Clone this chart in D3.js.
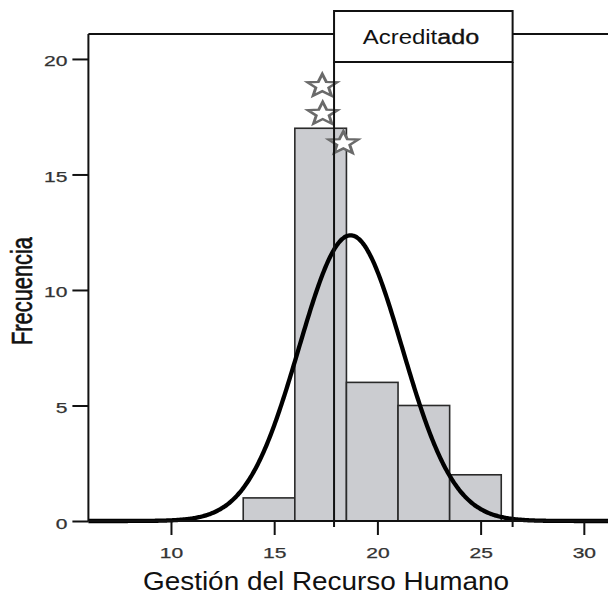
<!DOCTYPE html>
<html>
<head>
<meta charset="utf-8">
<script src="https://cdn.jsdelivr.net/npm/d3@7"></script>
<style>
  html, body { margin: 0; padding: 0; background: #fff; }
  svg { display: block; }
  text { font-family: "Liberation Sans", Arial, Helvetica, sans-serif; }
</style>
</head>
<body>
<script>
// ---- Data ----
const binEdges = [13.5, 16, 18.5, 21, 23.5, 26];
const counts = [1, 17, 6, 5, 2];
const xTicks = [10, 15, 20, 25, 30];
const yTicks = [0, 5, 10, 15, 20];
const curveMean = 18.7;
const curveSd = 2.5;
const nTotal = 31;
const binWidth = 2.5;
const acreditadoRange = [17.9, 26.55];
const acreditadoLabel = ["Acredit", "ado"];
const outlierX = [17.33, 17.35, 18.35];
const outlierY = [18.83, 17.62, 16.35];
const xTitle = "Gestión del Recurso Humano";
const yTitle = "Frecuencia";

// ---- Layout ----
const W = 608, H = 598;
const svg = d3.select("body").append("svg").attr("width", W).attr("height", H);

const x = d3.scaleLinear().domain([6, 31.2]).range([88.4, 608.6]);
const y = d3.scaleLinear().domain([0, 21.08]).range([521, 34]);

// Frame: top line
svg.append("line").attr("x1", x(6)).attr("x2", W + 5).attr("y1", y(21.08)).attr("y2", y(21.08))
  .attr("stroke", "#111").attr("stroke-width", 2);

// Bars
const bars = counts.map((c, i) => ({ x0: binEdges[i], x1: binEdges[i + 1], c }));
svg.append("g").selectAll("rect").data(bars).join("rect")
  .attr("x", d => x(d.x0))
  .attr("width", d => x(d.x1) - x(d.x0))
  .attr("y", d => y(d.c))
  .attr("height", d => y(0) - y(d.c))
  .attr("fill", "#cbccd0")
  .attr("stroke", "#2a2a2a")
  .attr("stroke-width", 1.6);

// Normal curve
const scaleK = nTotal * binWidth / (curveSd * Math.sqrt(2 * Math.PI));
const curveXs = d3.range(6, 31.25, 0.05);
const line = d3.line()
  .x(v => x(v))
  .y(v => y(scaleK * Math.exp(-((v - curveMean) ** 2) / (2 * curveSd * curveSd))))
  .curve(d3.curveBasis);
svg.append("path").datum(curveXs).attr("d", line)
  .attr("fill", "none").attr("stroke", "#000").attr("stroke-width", 4.3);

// Outlier stars
const starPath = (r1, r2) => {
  const pts = [];
  for (let i = 0; i < 10; i++) {
    const r = i % 2 === 0 ? r1 : r2;
    const a = -Math.PI / 2 + i * Math.PI / 5;
    pts.push([r * Math.cos(a), r * Math.sin(a)]);
  }
  return "M" + pts.map(p => p.join(",")).join("L") + "Z";
};
svg.append("g").selectAll("path").data(outlierX.map((v, i) => [v, outlierY[i]])).join("path")
  .attr("transform", d => `translate(${x(d[0])},${y(d[1])}) scale(1.3,1)`)
  .attr("d", starPath(12, 5.2))
  .attr("fill", "#fff")
  .attr("stroke", "#6a6a6a")
  .attr("stroke-width", 2.3);

// Acreditado box
const ax0 = x(acreditadoRange[0]), ax1 = x(acreditadoRange[1]);
svg.append("rect").attr("x", ax0).attr("y", 11).attr("width", ax1 - ax0).attr("height", 51)
  .attr("fill", "#fff").attr("stroke", "#111").attr("stroke-width", 2);
svg.append("line").attr("x1", ax0).attr("x2", ax0).attr("y1", 62).attr("y2", 527)
  .attr("stroke", "#111").attr("stroke-width", 2);
svg.append("line").attr("x1", ax1).attr("x2", ax1).attr("y1", 62).attr("y2", 527)
  .attr("stroke", "#111").attr("stroke-width", 2);
const acc = svg.append("text").attr("x", 362.7).attr("y", 44)
  .attr("font-size", 20).attr("fill", "#111")
  .attr("textLength", 116.6).attr("lengthAdjust", "spacingAndGlyphs");
acc.append("tspan").text(acreditadoLabel[0]);
acc.append("tspan").attr("stroke", "#111").attr("stroke-width", 0.35).attr("font-size", 21).text(acreditadoLabel[1]);

// Left frame line
svg.append("line").attr("x1", x(6)).attr("x2", x(6)).attr("y1", y(21.08)).attr("y2", y(0))
  .attr("stroke", "#111").attr("stroke-width", 2);

// X axis
const xAxis = svg.append("g").attr("transform", `translate(0,${y(0)})`)
  .call(d3.axisBottom(x).tickValues(xTicks).tickSize(14).tickSizeOuter(0).tickFormat(d3.format("d")));
xAxis.select(".domain").attr("stroke", "#111").attr("stroke-width", 2)
  .attr("d", `M${x(6)},0H${W + 5}`);
xAxis.selectAll(".tick line").attr("stroke", "#111").attr("stroke-width", 2);
xAxis.selectAll(".tick text")
  .attr("y", 37).attr("dy", null)
  .attr("font-size", 14).attr("fill", "#333")
  .attr("stroke", "#333").attr("stroke-width", 0.25)
  .attr("font-family", "Liberation Sans, Arial, sans-serif")
  .attr("textLength", 23.4).attr("lengthAdjust", "spacingAndGlyphs");

// Y axis
const yAxis = svg.append("g").attr("transform", `translate(${x(6)},0)`)
  .call(d3.axisLeft(y).tickValues(yTicks).tickSize(16).tickSizeOuter(0).tickFormat(d3.format("d")));
yAxis.select(".domain").remove();
yAxis.selectAll(".tick line").attr("stroke", "#111").attr("stroke-width", 2);
yAxis.selectAll(".tick text")
  .attr("x", -21).attr("y", 7).attr("dy", null)
  .attr("font-size", 14).attr("fill", "#333")
  .attr("stroke", "#333").attr("stroke-width", 0.25)
  .attr("font-family", "Liberation Sans, Arial, sans-serif")
  .attr("textLength", d => String(d).length * 11.7).attr("lengthAdjust", "spacingAndGlyphs");

// Axis titles
svg.append("text").attr("x", 143).attr("y", 590)
  .attr("font-size", 25).attr("fill", "#111")
  .attr("textLength", 366).attr("lengthAdjust", "spacingAndGlyphs")
  .text(xTitle);

svg.append("text").attr("transform", "translate(32,345) rotate(-90)")
  .attr("font-size", 29).attr("fill", "#111")
  .attr("stroke", "#111").attr("stroke-width", 0.6)
  .attr("textLength", 108).attr("lengthAdjust", "spacingAndGlyphs")
  .text(yTitle);
</script>
</body>
</html>
